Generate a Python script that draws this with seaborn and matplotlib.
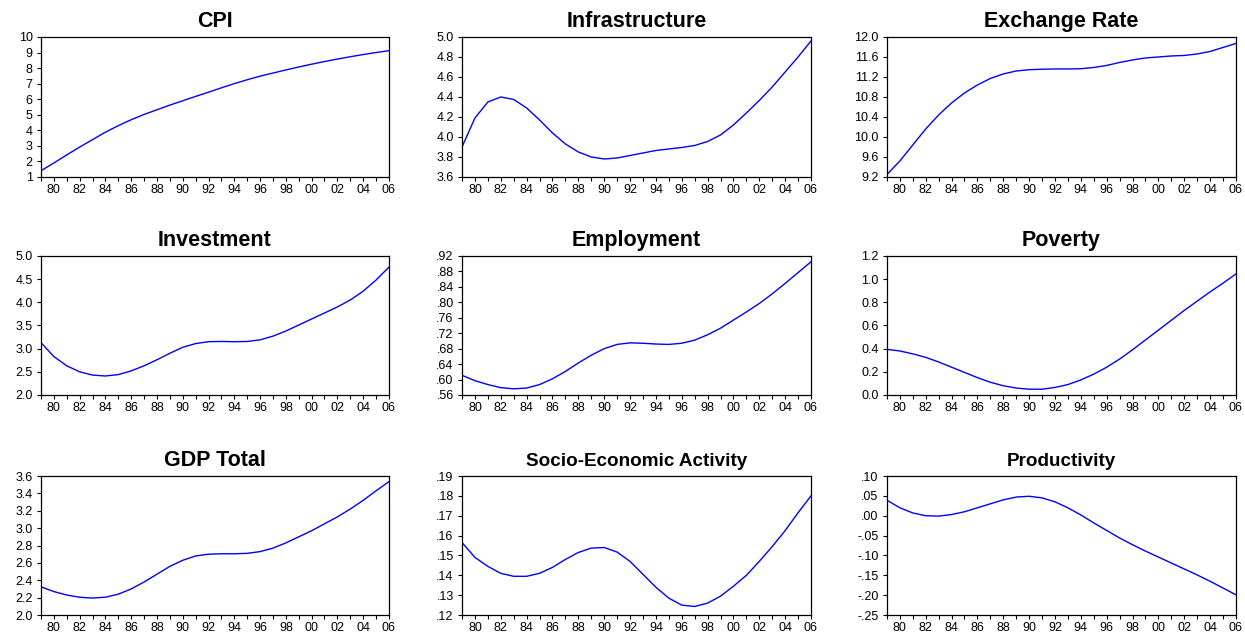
import matplotlib
matplotlib.use("Agg")
import matplotlib.pyplot as plt
import seaborn as sns

# ---------------------------------------------------------------------------
# Data (annual values 1979-2006)
# ---------------------------------------------------------------------------
years = list(range(1979, 2007))

cpi = [1.40, 1.90, 2.42, 2.92, 3.40, 3.88, 4.30, 4.68, 5.02, 5.32, 5.62, 5.90,
       6.18, 6.45, 6.73, 7.00, 7.25, 7.48, 7.68, 7.88, 8.07, 8.25, 8.42, 8.58,
       8.73, 8.87, 9.00, 9.12]
infrastructure = [3.90, 4.19, 4.35, 4.40, 4.375, 4.29, 4.17, 4.04, 3.93, 3.85,
                  3.80, 3.78, 3.79, 3.815, 3.84, 3.865, 3.88, 3.895, 3.915,
                  3.955, 4.02, 4.12, 4.24, 4.365, 4.50, 4.65, 4.80, 4.96]
exchange_rate = [9.25, 9.52, 9.84, 10.16, 10.44, 10.68, 10.88, 11.04, 11.17,
                 11.26, 11.32, 11.345, 11.355, 11.36, 11.36, 11.365, 11.39,
                 11.43, 11.49, 11.54, 11.58, 11.60, 11.62, 11.63, 11.66,
                 11.71, 11.79, 11.87]
investment = [3.13, 2.83, 2.63, 2.50, 2.43, 2.41, 2.44, 2.52, 2.63, 2.76, 2.90,
              3.03, 3.11, 3.15, 3.155, 3.15, 3.155, 3.19, 3.27, 3.38, 3.51,
              3.64, 3.77, 3.90, 4.05, 4.24, 4.48, 4.76]
employment = [.611, .597, .587, .579, .576, .578, .587, .602, .621, .643, .663,
              .680, .691, .695, .694, .692, .691, .694, .702, .716, .733, .754,
              .775, .797, .822, .849, .877, .905]
poverty = [0.394, 0.38, 0.355, 0.325, 0.285, 0.24, 0.195, 0.15, 0.11, 0.08,
           0.06, 0.05, 0.05, 0.065, 0.09, 0.13, 0.18, 0.24, 0.31, 0.39, 0.475,
           0.56, 0.645, 0.73, 0.81, 0.89, 0.965, 1.045]
gdp_total = [2.325, 2.27, 2.23, 2.205, 2.195, 2.205, 2.24, 2.30, 2.38, 2.47,
             2.56, 2.63, 2.68, 2.70, 2.705, 2.705, 2.71, 2.73, 2.77, 2.83,
             2.90, 2.97, 3.05, 3.13, 3.22, 3.32, 3.43, 3.535]
socio_economic = [.1565, .149, .1445, .141, .1395, .1395, .141, .144, .148,
                  .1515, .1537, .154, .1517, .147, .1405, .134, .1285, .125,
                  .1243, .126, .1295, .1345, .140, .147, .1545, .1625, .1715,
                  .180]
productivity = [.039, .020, .007, .000, -.001, .003, .010, .020, .030, .040,
                .047, .049, .045, .035, .020, .002, -.018, -.037, -.056, -.073,
                -.089, -.104, -.119, -.134, -.149, -.165, -.182, -.199]

titles = ["CPI", "Infrastructure", "Exchange Rate",
          "Investment", "Employment", "Poverty",
          "GDP Total", "Socio-Economic Activity", "Productivity"]
series = [cpi, infrastructure, exchange_rate,
          investment, employment, poverty,
          gdp_total, socio_economic, productivity]

# y ticks and their EViews-style labels
yticks = [
    [1, 2, 3, 4, 5, 6, 7, 8, 9, 10],
    [3.6, 3.8, 4.0, 4.2, 4.4, 4.6, 4.8, 5.0],
    [9.2, 9.6, 10.0, 10.4, 10.8, 11.2, 11.6, 12.0],
    [2.0, 2.5, 3.0, 3.5, 4.0, 4.5, 5.0],
    [.56, .60, .64, .68, .72, .76, .80, .84, .88, .92],
    [0.0, 0.2, 0.4, 0.6, 0.8, 1.0, 1.2],
    [2.0, 2.2, 2.4, 2.6, 2.8, 3.0, 3.2, 3.4, 3.6],
    [.12, .13, .14, .15, .16, .17, .18, .19],
    [-.25, -.20, -.15, -.10, -.05, .00, .05, .10],
]
ylabels = [
    ["1", "2", "3", "4", "5", "6", "7", "8", "9", "10"],
    ["3.6", "3.8", "4.0", "4.2", "4.4", "4.6", "4.8", "5.0"],
    ["9.2", "9.6", "10.0", "10.4", "10.8", "11.2", "11.6", "12.0"],
    ["2.0", "2.5", "3.0", "3.5", "4.0", "4.5", "5.0"],
    [".56", ".60", ".64", ".68", ".72", ".76", ".80", ".84", ".88", ".92"],
    ["0.0", "0.2", "0.4", "0.6", "0.8", "1.0", "1.2"],
    ["2.0", "2.2", "2.4", "2.6", "2.8", "3.0", "3.2", "3.4", "3.6"],
    [".12", ".13", ".14", ".15", ".16", ".17", ".18", ".19"],
    ["-.25", "-.20", "-.15", "-.10", "-.05", ".00", ".05", ".10"],
]

xlabel_years = list(range(1980, 2007, 2))
xlabel_text = [f"{y % 100:02d}" for y in xlabel_years]

# the two long-named bottom panels use a smaller title in the original
title_sizes = [15.5] * 7 + [13.6, 13.6]

# ---------------------------------------------------------------------------
# Layout
# ---------------------------------------------------------------------------
sns.set_style("white")
plt.rcParams["font.family"] = ["Liberation Sans", "DejaVu Sans"]
plt.rcParams["text.color"] = "black"
plt.rcParams["xtick.color"] = "black"
plt.rcParams["ytick.color"] = "black"

fig = plt.figure(figsize=(12.45, 6.33), dpi=100)

col_left = [0.0329, 0.3711, 0.7124]
col_width = [0.2795, 0.2803, 0.2803]
row_bottom = [0.7204, 0.3760, 0.0284]
row_height = [0.2212, 0.2196, 0.2196]

for i, (title, vals) in enumerate(zip(titles, series)):
    r, c = divmod(i, 3)
    ax = fig.add_axes([col_left[c], row_bottom[r], col_width[c], row_height[r]])
    sns.lineplot(x=years, y=vals, ax=ax, color="#0000FF", linewidth=1.0)

    ax.set_xlim(1979, 2006)
    ax.set_ylim(yticks[i][0], yticks[i][-1])
    ax.set_yticks(yticks[i])
    ax.set_yticklabels(ylabels[i])
    ax.set_xticks(years, minor=True)
    ax.set_xticks(xlabel_years)
    ax.set_xticklabels(xlabel_text)

    ax.tick_params(axis="both", which="both", direction="out", length=3,
                   width=0.8, color="black", labelcolor="black", labelsize=9,
                   bottom=True, left=True)
    ax.tick_params(axis="x", pad=2)
    ax.tick_params(axis="y", pad=3)
    for sp in ax.spines.values():
        sp.set_color("black")
        sp.set_linewidth(0.9)
    ax.set_xlabel("")
    ax.set_ylabel("")
    ax.set_title(title, fontsize=title_sizes[i], fontweight="bold", pad=7,
                 color="black")

fig.savefig("out.png", dpi=100)
plt.close(fig)
